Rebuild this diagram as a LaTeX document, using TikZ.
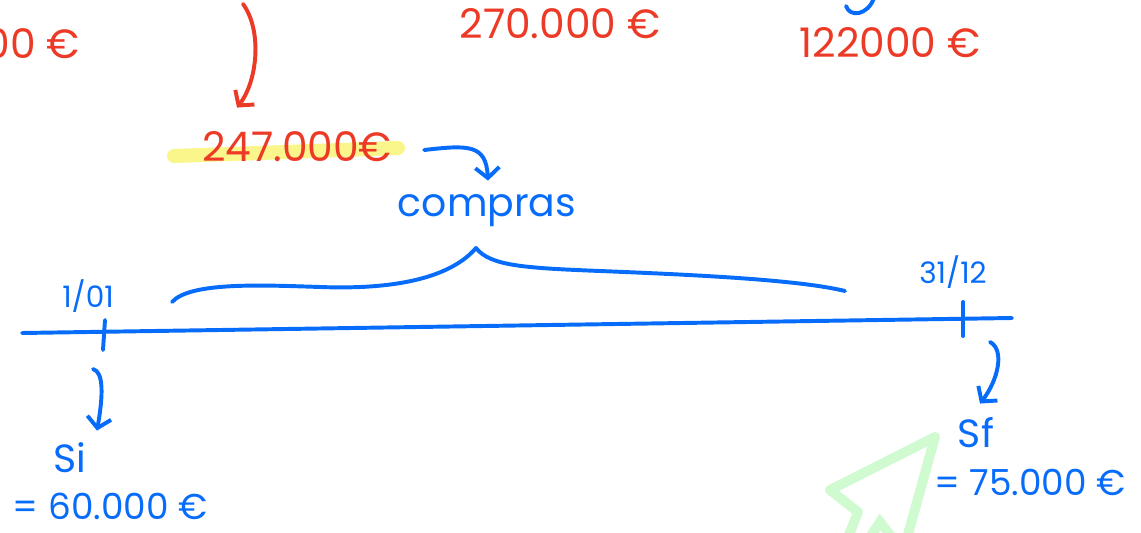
\documentclass[tikz,border=0pt]{standalone}
\usepackage{fontspec}
\setmainfont{Poppins}
\usepackage{xcolor}
\usetikzlibrary{arrows.meta, positioning, calc}
\definecolor{penred}{RGB}{236,58,38}
\definecolor{penblue}{RGB}{8,108,250}
\definecolor{hiyellow}{RGB}{250,246,140}
\definecolor{ghostgreen}{RGB}{208,250,208}

\begin{document}
\begin{tikzpicture}[
   x=0.025cm, y=-0.025cm,
   >={Straight Barb[length=2.6mm, width=6mm]},
   amount/.style={text=penred, inner sep=0pt, font=\fontsize{29}{31}\selectfont},
   note/.style={text=penblue, inner sep=0pt, font=\fontsize{28}{30}\selectfont},
   stock/.style={text=penblue, inner sep=0pt, font=\fontsize{25.5}{28}\selectfont},
   datelbl/.style={text=penblue, inner sep=0pt, font=\fontsize{21}{23}\selectfont},
   pen/.style={draw=penblue, line width=2.8pt, line cap=round, line join=round},
   redpen/.style={draw=penred, line width=2.8pt, line cap=round, line join=round},
]
\useasboundingbox (0,0) rectangle (1141,532);

% ---- cursor ghost ----
\draw[ghostgreen, line width=7pt, line join=round, line cap=round]
   (845,545) -- (858,512) -- (830,490) -- (935,437) -- (905,545);
\draw[ghostgreen, line width=7pt, line cap=round] (868,540) -- (880,522) -- (894,540);

% ---- amounts on top ----
\node[amount, anchor=east] (prev) at (80,44) {000 €};
\node[amount] (ventas) at (560,24) {270.000 €};
\node[amount] (resto) at (890,43) {122000 €};
\draw[pen] (874,-2) .. controls (868,15) and (850,18) .. (846,6);

\draw[hiyellow, line width=10pt, line cap=round] (174,156) -- (398,148);
\node[amount] (compra) at (297,147) {247.000€};
\coordinate (top) at (243,4);
\draw[redpen, ->] (top) .. controls (262,30) and (258,80) .. ($(compra.north)+(-60,-24)$);

% ---- compras ----
\node[note] (compras) at (487,211) {compras};
\draw[pen, ->] ($(compra.east)+(32,3)$) .. controls (468,145) and (486,144) .. ($(compras.north)+(1,-14)$);
\draw[pen] (172,302) .. controls (190,282) and (260,285) .. (320,287)
   .. controls (400,290) and (452,276) .. (476,248)
   .. controls (490,266) and (525,268) .. (600,271)
   .. controls (700,275) and (800,280) .. (845,291);

% ---- time line ----
\coordinate (start) at (22,333);
\coordinate (stop) at (1012,318);
\draw[pen] (start) -- (stop);
\draw[pen] (105,320) -- (103,350);
\draw[pen] (963,302) -- (963,336);
\node[datelbl] (d1) at (88,296) {1/01};
\node[datelbl] (d2) at (953,272) {31/12};

% ---- stocks ----
\node[note] (si) at (70,458) {Si};
\node[stock] (sival) at (110,506) {= 60.000 €};
\node[note] (sf) at (976,433) {Sf};
\node[stock] (sfval) at (1030,482) {= 75.000 €};
\draw[pen, ->] (93,369) .. controls (104,372) and (103,396) .. ($(si.north)+(27,-12)$);
\draw[pen, ->] (990,342) .. controls (1005,350) and (998,380) .. ($(sf.north)+(4,-14)$);
\end{tikzpicture}
\end{document}
